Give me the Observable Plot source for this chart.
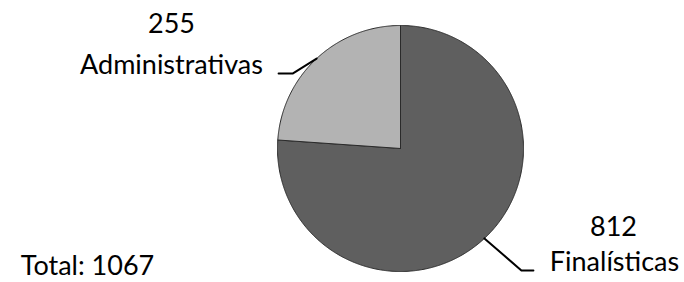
<!DOCTYPE html>
<html>
<head>
<meta charset="utf-8">
<script src="https://cdn.jsdelivr.net/npm/d3@7"></script>
<script src="https://cdn.jsdelivr.net/npm/@observablehq/plot@0.6"></script>
<style>
  html, body { margin: 0; padding: 0; background: #fff; }
</style>
</head>
<body>
<div id="chart"></div>
<script>
// Data
const categories = ["Finalísticas", "Administrativas"];
const values = [812, 255];
const colors = ["#5f5f5f", "#b3b3b3"];
const totalLabel = "Total: 1067";

const W = 684, H = 282;
const R = 123;           // pie radius in px
const CX = 400, CY = 148; // pie centre in px
const px = (p) => (p - CX) / R;  // pixel -> data x
const py = (p) => (CY - p) / R;  // pixel -> data y

const arcs = d3.pie().sort(null).value(d => d.value)(
  categories.map((c, i) => ({category: c, value: values[i], color: colors[i]}))
);

// polygon points for each slice (angle clockwise from 12 o'clock)
const slices = arcs.map(a => {
  const pts = [{x: 0, y: 0}];
  const n = Math.max(2, Math.ceil((a.endAngle - a.startAngle) / (Math.PI / 360)));
  for (let k = 0; k <= n; k++) {
    const t = a.startAngle + (a.endAngle - a.startAngle) * k / n;
    pts.push({x: Math.sin(t), y: Math.cos(t)});
  }
  pts.push({x: 0, y: 0});
  return {pts, color: a.data.color};
});

// leader lines from slice mid-angle
const mid = a => (a.startAngle + a.endAngle) / 2;
const edge = a => ({x: Math.sin(mid(a)), y: Math.cos(mid(a))});
const eF = edge(arcs[0]), eA = edge(arcs[1]);
const leaderF = [eF, {x: eF.x + 37 / R, y: eF.y - 32 / R}, {x: eF.x + 49 / R, y: eF.y - 32 / R}];
const leaderA = [eA, {x: eA.x - 24 / R, y: eA.y - 15 / R}, {x: eA.x - 38 / R, y: eA.y - 15 / R}];

const labels = [
  {x: px(171), y: py(32), text: String(values[1])},
  {x: px(171), y: py(73), text: categories[1]},
  {x: px(613), y: py(235), text: String(values[0])},
  {x: px(614), y: py(270), text: categories[0]},
  {x: px(87), y: py(274), text: totalLabel}
];

const chart = Plot.plot({
  width: W,
  height: H,
  margin: 0,
  x: {domain: [px(0), px(W)], axis: null},
  y: {domain: [py(H), py(0)], axis: null},
  style: {background: "#fff", fontFamily: "Lato, 'Open Sans', sans-serif"},
  marks: [
    ...slices.map(s => Plot.line(s.pts, {x: "x", y: "y", fill: s.color, stroke: "#2a2a2a", strokeWidth: 1, curve: "linear"})),
    Plot.line(leaderA, {x: "x", y: "y", stroke: "#000", strokeWidth: 2}),
    Plot.line(leaderF, {x: "x", y: "y", stroke: "#000", strokeWidth: 2}),
    Plot.text(labels, {x: "x", y: "y", text: "text", textAnchor: "middle", lineAnchor: "bottom", fontSize: 27, fill: "#000"})
  ]
});
document.getElementById("chart").appendChild(chart);
</script>
</body>
</html>
